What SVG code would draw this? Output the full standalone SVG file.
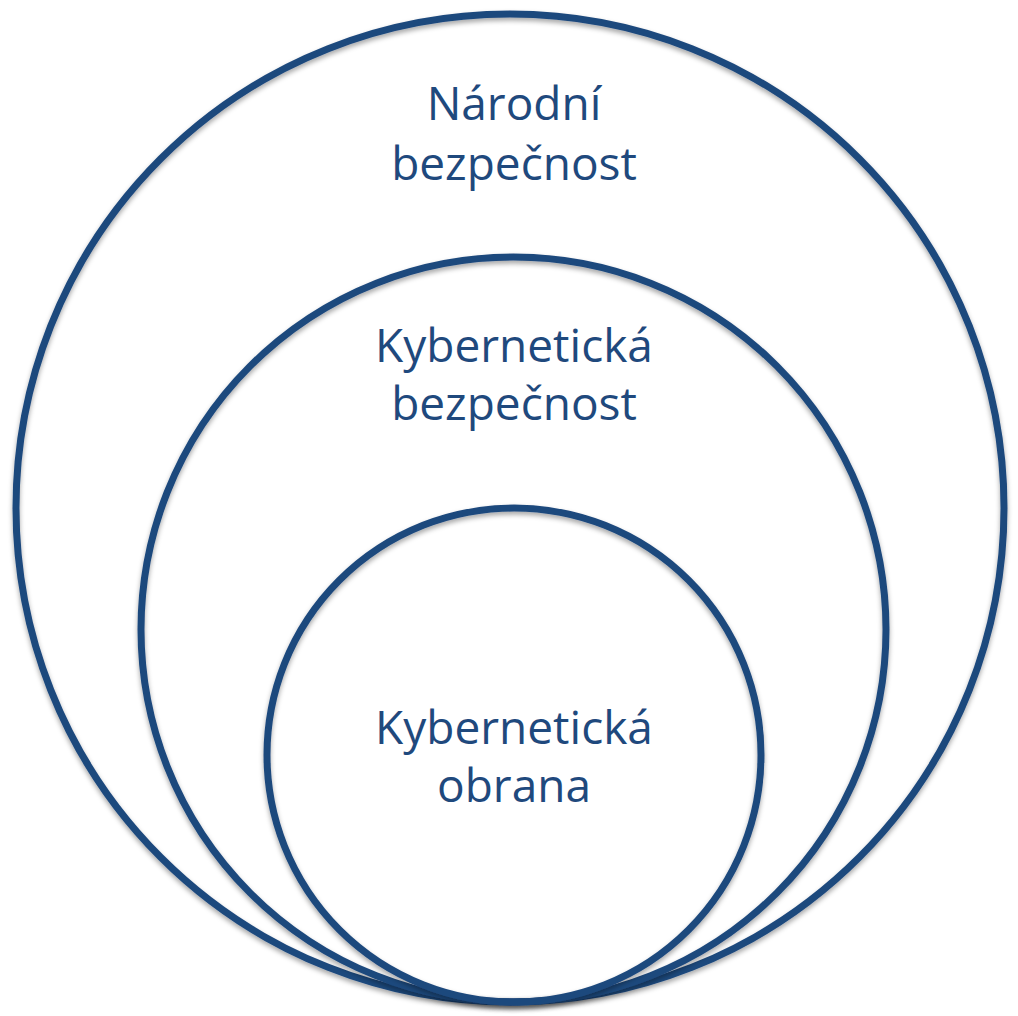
<svg xmlns="http://www.w3.org/2000/svg" width="1018" height="1016" viewBox="0 0 1018 1016">
  <defs>
    <filter id="shadow" x="-5%" y="-5%" width="110%" height="110%">
      <feDropShadow dx="0" dy="3" stdDeviation="2.5" flood-color="#000" flood-opacity="0.35"/>
    </filter>
    <style>
      .ring { fill: none; stroke: #1F497D; stroke-width: 7; filter: url(#shadow); }
      .label { font-family: "Open Sans", "Liberation Sans", sans-serif; font-size: 46px; fill: #1F497D; text-anchor: middle; }
    </style>
  </defs>
  <rect width="1018" height="1016" fill="#ffffff"/>
  <g id="narodni-bezpecnost">
    <circle class="ring" cx="510" cy="508" r="494"/>
    <text class="label" x="514" y="120">Národní</text>
    <text class="label" x="514" y="180">bezpečnost</text>
  </g>
  <g id="kyberneticka-bezpecnost">
    <circle class="ring" cx="513.5" cy="629.5" r="372.5"/>
    <text class="label" x="514" y="362">Kybernetická</text>
    <text class="label" x="514" y="420">bezpečnost</text>
  </g>
  <g id="kyberneticka-obrana">
    <circle class="ring" cx="514" cy="755" r="247"/>
    <text class="label" x="514" y="744">Kybernetická</text>
    <text class="label" x="514" y="802">obrana</text>
  </g>
  <g id="connectors"/>
</svg>
